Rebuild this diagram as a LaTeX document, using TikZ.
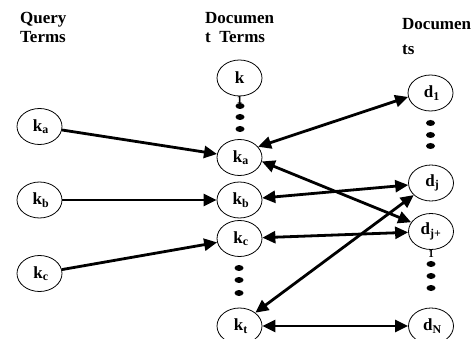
\documentclass[tikz,border=0pt]{standalone}
\usepackage{fontspec}
\setmainfont{Liberation Serif}
\usetikzlibrary{arrows.meta,shapes.geometric}

\begin{document}
\begin{tikzpicture}[x=1pt,y=-1pt,
		term/.style={draw, ellipse, line width=0.8pt, minimum width=45pt, minimum height=36pt, inner sep=0pt, font=\fontsize{17}{19}\bfseries\selectfont},
		link/.style={line width=2.8pt, -{Triangle[length=13pt,width=12pt]}},
		bilink/.style={line width=2.8pt, {Triangle[length=13pt,width=12pt]}-{Triangle[length=13pt,width=12pt]}},
		head/.style={anchor=north west, align=left, inner sep=0pt, font=\fontsize{17}{19.5}\bfseries\selectfont},
		sub/.style={inner sep=0pt, label distance=0pt, font=\fontsize{11}{11}\bfseries\selectfont}]
			\useasboundingbox (0,0) rectangle (474,339);
			\node[head] (hq) at (20,12) {Query\\Terms};
			\node[head] (ht) at (205,12) {Documen\\t\ \ Terms};
			\node[head, font=\fontsize{17}{25}\bfseries\selectfont] (hd) at (402,18) {Documen\\ts};
			% query terms
			\node[term] (qa) at (39.5,126.5) {\,k\textsubscript{a}};
			\node[term] (qb) at (39.5,200) {\,k\textsubscript{b}};
			\node[term] (qc) at (39.5,273.5) {\,k\textsubscript{c}};
			% document terms
			\node[term, label={[sub]below:1}] (t1) at (239.5,78) {k};
			\node[term] (ta) at (239.5,157.5) {\,k\textsubscript{a}};
			\node[term] (tb) at (239.5,200) {\,k\textsubscript{b}};
			\node[term] (tc) at (239.5,238.5) {\,k\textsubscript{c}};
			\node[term] (tt) at (239.5,326) {\,k\textsubscript{t}};
			% documents
			\node[term] (d1) at (430.5,93) {\,d\textsubscript{1}};
			\node[term] (dj) at (431,183) {\,d\textsubscript{j}};
			\node[term, label={[sub]below:1}] (dj1) at (431,231.5) {d\textsubscript{j+}};
			\node[term] (dN) at (431,326) {\,d\textsubscript{N}};
			\foreach \y in {106,117,129} \fill (240,\y) ellipse [x radius=4.5pt, y radius=3pt];
			\foreach \y in {268,280,293} \fill (239,\y) ellipse [x radius=4.5pt, y radius=3pt];
			\foreach \y in {123,135,146} \fill (430.5,\y) ellipse [x radius=4.5pt, y radius=3pt];
			\foreach \y in {264,276,288} \fill (431,\y) ellipse [x radius=4.5pt, y radius=3pt];
			\draw[link] (qa) -- (ta);
			\draw[link] (qb) -- (tb);
			\draw[link] (qc) -- (tc);
			\draw[bilink] (ta.30) -- (d1.190);
			\draw[bilink] (tb) -- (dj);
			\draw[bilink] (ta.-10) -- (dj1.155);
			\draw[bilink] (tc) -- (dj1);
			\draw[bilink] (tt.40) -- (dj.215);
			\draw[bilink] (tt) -- (dN);
		\end{tikzpicture}
\end{document}
